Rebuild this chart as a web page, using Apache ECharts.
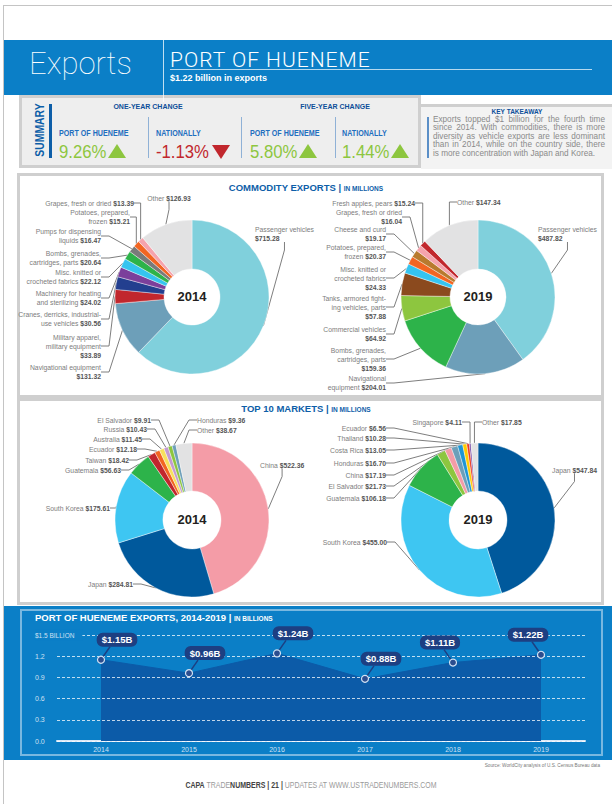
<!DOCTYPE html>
<html>
<head>
<meta charset="utf-8">
<script src="https://cdn.jsdelivr.net/npm/echarts@6/dist/echarts.min.js"></script>
<style>
  body { margin: 0; }
  #page { position: relative; width: 612px; height: 804px; overflow: hidden; background: #fff;
    font-family: "Liberation Sans", Arial, sans-serif; }
  .abs { position: absolute; white-space: nowrap; }
  .sq { transform-origin: 0 50%; transform: scaleX(0.84); }
  .box { position: absolute; border: 3px solid #cfcfcf; box-sizing: border-box; background: #fff; }
  .lab { font-weight: bold; font-size: 8.5px; color: #1f6fbf; line-height: 10px; }
  .val { font-size: 19px; line-height: 20px; transform: scaleX(0.88); }
  .sep { position: absolute; width: 1px; background: #8fb1d6; top: 117px; height: 41px; }
  .up { position: absolute; width: 0; height: 0; border-left: 9.5px solid transparent; border-right: 9.5px solid transparent; border-bottom: 14px solid #8dc63f; top: 144px; }
  .down { position: absolute; width: 0; height: 0; border-left: 9.5px solid transparent; border-right: 9.5px solid transparent; border-top: 14px solid #c1272d; top: 145px; }
  .head { font-weight: bold; font-size: 7px; color: #0d4f99; line-height: 8px; transform: translateX(-50%); }
  .sect { font-weight: bold; font-size: 9.5px; color: #0d5ea8; line-height: 11px; transform: translateX(-50%); }
  .sect small { font-size: 6.5px; }
  .year { font-weight: bold; font-size: 13px; color: #231f20; line-height: 14px; transform: translate(-50%, -50%); z-index: 3; }
  .take div { text-align: justify; text-align-last: justify; height: 8.4px; line-height: 8.4px; }
  #chart { position: absolute; left: 0; top: 0; width: 612px; height: 804px; z-index: 2; pointer-events: none; }
</style>
</head>
<body>
<div id="page">
  <!-- page frame -->
  <div class="abs" style="left:3px;top:5px;width:609px;height:1px;background:#c4c4c4"></div>
  <div class="abs" style="left:3px;top:5px;width:1px;height:799px;background:#c4c4c4"></div>

  <!-- header band -->
  <div class="abs" style="left:4px;top:40px;width:608px;height:55px;background:#0b7fc7"></div>
  <div class="abs" style="left:29px;top:46px;font-family:Roboto,sans-serif;font-weight:100;font-size:31px;line-height:36px;color:#fff">Exports</div>
  <div class="abs" style="left:163px;top:40px;width:1px;height:62px;background:rgba(255,255,255,0.75);z-index:1"></div>
  <div class="abs" style="left:170px;top:48px;font-family:Roboto,sans-serif;font-weight:300;font-size:21px;line-height:24px;letter-spacing:1px;color:#fff">PORT OF HUENEME</div>
  <div class="abs" style="left:170px;top:69px;width:422px;height:1px;background:rgba(255,255,255,0.7)"></div>
  <div class="abs" style="left:170px;top:73px;font-weight:bold;font-size:9px;line-height:10px;color:#fff">$1.22 billion in exports</div>

  <!-- summary -->
  <div class="box" style="left:19px;top:95px;width:402px;height:73px;background:#eeeeee"></div>
  <div class="abs" style="left:39px;top:130px;font-weight:bold;font-size:13px;line-height:13px;color:#0d5ea8;transform:translate(-50%,-50%) rotate(-90deg) scaleX(0.8)">SUMMARY</div>
  <div class="abs" style="left:49px;top:104px;width:3px;height:54px;background:#0d5ea8"></div>
  <div class="abs head" style="left:148px;top:103px">ONE-YEAR CHANGE</div>
  <div class="abs head" style="left:335px;top:103px">FIVE-YEAR CHANGE</div>
  <div class="sep" style="left:148px"></div>
  <div class="sep" style="left:241px"></div>
  <div class="sep" style="left:335px"></div>
  <div class="abs sq lab" style="left:59px;top:128px">PORT OF HUENEME</div>
  <div class="abs sq lab" style="left:156px;top:128px">NATIONALLY</div>
  <div class="abs sq lab" style="left:250px;top:128px">PORT OF HUENEME</div>
  <div class="abs sq lab" style="left:342px;top:128px">NATIONALLY</div>
  <div class="abs sq val" style="left:59px;top:142px;color:#8dc63f">9.26%</div>
  <div class="up" style="left:108px"></div>
  <div class="abs sq val" style="left:156px;top:142px;color:#c1272d">-1.13%</div>
  <div class="down" style="left:212px"></div>
  <div class="abs sq val" style="left:250px;top:142px;color:#8dc63f">5.80%</div>
  <div class="up" style="left:299px"></div>
  <div class="abs sq val" style="left:342px;top:142px;color:#8dc63f">1.44%</div>
  <div class="up" style="left:391px"></div>

  <!-- key takeaway -->
  <div class="abs" style="left:421px;top:104px;width:191px;height:62px;background:#f3f3f3;border-top:3px solid #cfcfcf"></div>
  <div class="abs" style="left:517px;top:108px;transform:translateX(-50%);font-weight:bold;font-size:6.5px;line-height:7px;color:#0d4f99">KEY TAKEAWAY</div>
  <div class="abs" style="left:427px;top:117px;width:1.5px;height:41px;background:#5b8fc7"></div>
  <div class="abs take" style="left:433px;top:116px;width:172px;font-size:8.2px;color:#8a8a8a;white-space:normal">
    <div>Exports topped $1 billion for the fourth time</div>
    <div>since 2014. With commodities, there is more</div>
    <div>diversity as vehicle exports are less dominant</div>
    <div>than in 2014, while on the country side, there</div>
    <div style="text-align-last:left">is more concentration with Japan and Korea.</div>
  </div>

  <!-- section boxes -->
  <div class="box" style="left:17px;top:173px;width:587px;height:225px"></div>
  <div class="abs sect" style="left:306px;top:182px">COMMODITY EXPORTS | <small>IN MILLIONS</small></div>
  <div class="box" style="left:17px;top:398px;width:587px;height:207px"></div>
  <div class="abs sect" style="left:306px;top:403px">TOP 10 MARKETS | <small>IN MILLIONS</small></div>
  <div class="abs year" style="left:192px;top:297px">2014</div>
  <div class="abs year" style="left:478px;top:297px">2019</div>
  <div class="abs year" style="left:192px;top:520px">2014</div>
  <div class="abs year" style="left:478px;top:520px">2019</div>

  <!-- exports history band -->
  <div class="abs" style="left:4px;top:606px;width:608px;height:154px;background:#0b7fc7"></div>
  <div class="abs" style="left:20px;top:609px;width:583px;height:147px;border:2px solid rgba(255,255,255,0.45);box-sizing:border-box"></div>
  <div class="abs" style="left:35px;top:612px;font-weight:bold;font-size:9.5px;line-height:11px;color:#fff">PORT OF HUENEME EXPORTS, 2014-2019 | <span style="font-size:6.5px">IN BILLIONS</span></div>

  <!-- footer -->
  <div class="abs" style="left:600px;top:762px;transform-origin:100% 50%;transform:translateX(-100%) scaleX(0.85);font-size:5.5px;line-height:6px;color:#777">Source: WorldCity analysis of U.S. Census Bureau data</div>
  <div class="abs" style="left:311px;top:780px;transform:translateX(-50%) scaleX(0.82);font-size:8.5px;line-height:10px;color:#9a9a9a"><b style="color:#444">CAPA</b> TRADE<b style="color:#444">NUMBERS</b> <b style="color:#444">| 21 |</b> UPDATES AT WWW.USTRADENUMBERS.COM</div>

  <div id="chart"></div>
</div>

<script>
// ---- data ----
const commodity2014Names = ['Passenger vehicles\n', 'Navigational equipment\n', 'Military apparel,\nmilitary equipment\n',
  'Cranes, derricks, industrial-\nuse vehicles', 'Machinery for heating\nand sterilizing', 'Misc. knitted or\ncrocheted fabrics',
  'Bombs, grenades,\ncartridges, parts', 'Pumps for dispensing\nliquids', 'Potatoes, prepared,\nfrozen',
  'Grapes, fresh or dried', 'Other'];
const commodity2014Values = [715.28, 131.32, 33.89, 30.56, 24.02, 22.12, 20.64, 16.47, 15.21, 13.39, 126.93];

const commodity2019Names = ['Passenger vehicles\n', 'Navigational\nequipment', 'Bombs, grenades,\ncartridges, parts\n',
  'Commercial vehicles\n', 'Tanks, armored fight-\ning vehicles, parts\n', 'Misc. knitted or\ncrocheted fabrics\n',
  'Potatoes, prepared,\nfrozen', 'Cheese and curd\n', 'Grapes, fresh or dried\n', 'Fresh apples, pears', 'Other'];
const commodity2019Values = [487.82, 204.01, 159.36, 64.92, 57.88, 24.33, 20.37, 19.17, 16.04, 15.24, 147.34];

const markets2014Names = ['China', 'Japan', 'South Korea', 'Guatemala', 'Taiwan', 'Ecuador', 'Australia',
  'Russia', 'El Salvador', 'Honduras', 'Other'];
const markets2014Values = [522.36, 284.81, 175.61, 56.63, 18.42, 12.18, 11.45, 10.43, 9.91, 9.36, 38.67];

const markets2019Names = ['Japan', 'South Korea', 'Guatemala', 'El Salvador', 'China', 'Honduras', 'Costa Rica',
  'Thailand', 'Ecuador', 'Singapore', 'Other'];
const markets2019Values = [547.84, 455.00, 106.18, 21.73, 17.19, 16.70, 13.05, 10.28, 6.56, 4.11, 17.85];

const years = ['2014', '2015', '2016', '2017', '2018', '2019'];
const exportTotals = [1.15, 0.96, 1.24, 0.88, 1.11, 1.22];
const yTickLabels = ['0.0', '0.3', '0.6', '0.9', '1.2', '$1.5 BILLION'];

// ---- styles ----
const FONT = '"Liberation Sans", Arial, sans-serif';
const colorsC2014 = ['#80d0dc', '#6d9fb9', '#c1272d', '#233f8f', '#7b3f9b', '#35c4f0', '#2db34a', '#7a7a7a', '#f26522', '#f5a3ad', '#e2e2e3'];
const colorsC2019 = ['#80d0dc', '#6d9fb9', '#2db34a', '#8dc63f', '#8b4a1e', '#35c4f0', '#f26522', '#b87a2e', '#f5a3ad', '#c1272d', '#e2e2e3'];
const colorsM2014 = ['#f49ca7', '#00599c', '#3ec6f2', '#2db34a', '#c1272d', '#f26522', '#f7e05c', '#c49bd0', '#8dc63f', '#6d9fb9', '#e2e2e3'];
const colorsM2019 = ['#00599c', '#3ec6f2', '#2db34a', '#8dc63f', '#f49ca7', '#6d9fb9', '#1e96d4', '#ffcc00', '#ec3b24', '#6b3fa0', '#e2e2e3'];

// label anchor spots [x, y, align] for each slice
const spotsC2014 = [[255, 234, 'left'], [101, 372], [101, 346], [101, 319], [101, 298], [101, 277], [101, 258],
  [101, 236], [130, 217], [134, 203], [169, 198, 'center']];
const spotsC2019 = [[538, 234, 'left'], [386, 383], [386, 359], [386, 334], [386, 307], [386, 278], [386, 252],
  [386, 234], [402, 217], [415, 203], [457, 202, 'left']];
const spotsM2014 = [[260, 465, 'left'], [133, 584], [110, 508], [121, 470], [129, 460], [137, 449], [142, 439],
  [147, 429], [151, 420], [197, 420, 'left'], [197, 430, 'left']];
const spotsM2019 = [[552, 470, 'left'], [387, 542], [386, 498], [386, 486], [386, 475], [386, 463], [386, 450],
  [386, 438], [386, 428], [462, 422], [482, 422, 'left']];

function pieLabel(p) {
  const parts = p.name.split('\n');
  const last = parts.pop();
  const lines = parts.map(s => '{n|' + s + '}');
  const val = '{v|$' + p.value.toFixed(2) + '}';
  lines.push(last === '' ? val : '{n|' + last + ' }' + val);
  return lines.join('\n');
}

function pieSeries(names, values, colors, spots, center, radius) {
  return {
    type: 'pie',
    center: center,
    radius: radius,
    startAngle: 90,
    clockwise: true,
    silent: true,
    avoidLabelOverlap: false,
    animation: false,
    data: names.map((n, i) => ({ name: n, value: values[i], itemStyle: { color: colors[i] } })),
    itemStyle: { borderColor: '#fff', borderWidth: 0.4 },
    label: {
      show: true,
      position: 'outer',
      alignTo: 'none',
      formatter: pieLabel,
      rich: {
        n: { fontFamily: FONT, fontSize: 6.8, lineHeight: 9, color: '#7d7d7d' },
        v: { fontFamily: FONT, fontSize: 6.8, lineHeight: 9, color: '#555', fontWeight: 'bold' }
      }
    },
    labelLine: { show: true, length: 6, length2: 8, lineStyle: { color: '#6f6f6f', width: 0.9 } },
    labelLayout: function (params) {
      const s = spots[params.dataIndex];
      return { x: s[0], y: s[1], align: s[2] || 'right', verticalAlign: 'middle' };
    }
  };
}

const chart = echarts.init(document.getElementById('chart'), null, { renderer: 'svg' });

chart.setOption({
  animation: false,
  backgroundColor: 'transparent',
  grid: { left: 57, right: 27, top: 635, bottom: 63 },
  xAxis: {
    type: 'category',
    data: years,
    boundaryGap: true,
    axisTick: { show: false },
    axisLine: { lineStyle: { color: '#dbe8f6', width: 2 } },
    axisLabel: { color: '#cfe0f2', fontSize: 7, margin: 5, fontFamily: FONT }
  },
  yAxis: {
    type: 'value',
    min: 0,
    max: 1.5,
    interval: 0.3,
    z: 3,
    axisLine: { show: false },
    axisTick: { show: false },
    splitLine: { lineStyle: { color: 'rgba(255,255,255,0.75)', type: [3, 2], width: 1 } },
    axisLabel: {
      align: 'left',
      margin: 22,
      color: '#cfe0f2',
      fontSize: 7,
      fontFamily: FONT,
      formatter: function (v, i) {
        const t = yTickLabels[i];
        return i === yTickLabels.length - 1 ? '{top|' + t + '}' : t;
      },
      rich: { top: { fontSize: 6.5, color: '#cfe0f2', fontFamily: FONT, backgroundColor: '#0b7fc7', padding: [2, 8, 2, 0] } }
    }
  },
  series: [
    pieSeries(commodity2014Names, commodity2014Values, colorsC2014, spotsC2014, [192, 297], [28, 77]),
    pieSeries(commodity2019Names, commodity2019Values, colorsC2019, spotsC2019, [478, 297], [28, 77]),
    pieSeries(markets2014Names, markets2014Values, colorsM2014, spotsM2014, [192, 520], [29, 77]),
    pieSeries(markets2019Names, markets2019Values, colorsM2019, spotsM2019, [478, 520], [29, 77]),
    {
      // filled area, under the dashed grid lines
      type: 'line',
      data: exportTotals,
      silent: true,
      z: 2,
      symbol: 'none',
      lineStyle: { color: '#0c5ba8', width: 1 },
      areaStyle: { color: '#0c5ba8', opacity: 1 }
    },
    {
      // little pointer from each point up to its callout
      type: 'custom',
      silent: true,
      z: 4,
      data: exportTotals.map((v, i) => [i, v]),
      encode: { x: 0, y: 1 },
      renderItem: function (params, api) {
        const pt = api.coord([api.value(0), api.value(1)]);
        const s = params.dataIndex < 4 ? 1 : -1;
        return {
          type: 'line',
          shape: { x1: pt[0] + s * 2, y1: pt[1] - 3, x2: pt[0] + s * 9, y2: pt[1] - 13 },
          style: { stroke: '#1d3f82', lineWidth: 1.5 }
        };
      }
    },
    {
      // points and callouts, above the grid lines
      type: 'line',
      data: exportTotals,
      silent: true,
      z: 5,
      symbol: 'circle',
      symbolSize: 7,
      lineStyle: { opacity: 0 },
      itemStyle: { color: '#2b4d8f', borderColor: '#d3e2f3', borderWidth: 1.2 },
      label: {
        show: true,
        position: 'top',
        distance: 6,
        formatter: p => '$' + p.value.toFixed(2) + 'B',
        color: '#fff',
        fontWeight: 'bold',
        fontSize: 9.5,
        fontFamily: FONT,
        backgroundColor: '#1d3f82',
        borderRadius: 6,
        padding: [2, 5, 2, 5]
      },
      labelLayout: function (params) {
        return { dx: params.dataIndex < 4 ? 16 : -13, dy: -3 };
      }
    }
  ]
});
</script>
</body>
</html>
